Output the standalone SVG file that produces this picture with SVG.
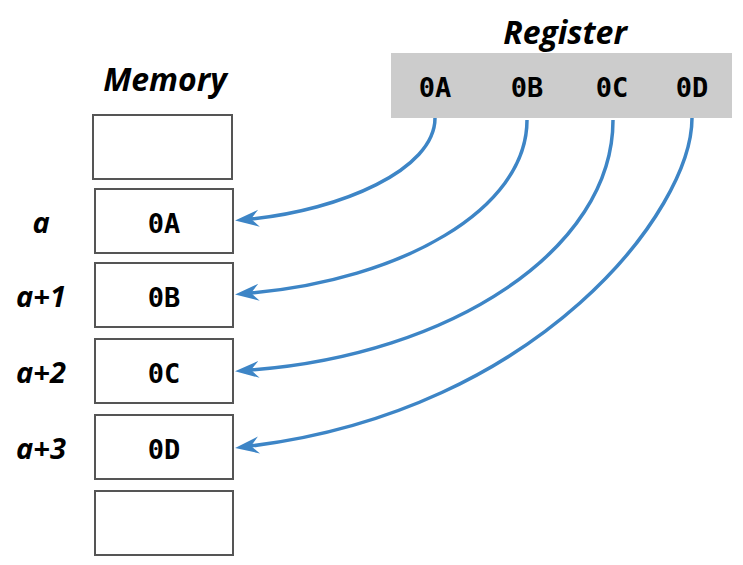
<svg xmlns="http://www.w3.org/2000/svg" width="743" height="565" viewBox="0 0 743 565">
  <style>
    .title { font-family: "Open Sans", "DejaVu Sans", sans-serif; font-weight: bold; font-style: italic; font-size: 32px; fill: #000; text-anchor: middle; }
    .addr { font-family: "Open Sans", "DejaVu Sans", sans-serif; font-weight: bold; font-style: italic; font-size: 29px; fill: #000; text-anchor: middle; }
    .val { font-family: "DejaVu Sans Mono", "Liberation Mono", monospace; font-weight: bold; font-size: 27px; fill: #000; text-anchor: middle; }
    .cell { fill: #ffffff; stroke: #555555; stroke-width: 2; }
    .edge { fill: none; stroke: #3d85c6; stroke-width: 3.5; }
  </style>
  <defs>
    <marker id="arrow" markerUnits="userSpaceOnUse" markerWidth="26" markerHeight="20" viewBox="0 -10 26 20" refX="8" refY="0" orient="auto">
      <path d="M24,0 L0,-8.5 L8,0 L0,8.5 Z" fill="#3d85c6"/>
    </marker>
  </defs>

  <g id="register">
    <text class="title" x="565" y="44">Register</text>
    <rect x="391" y="53" width="341" height="65" fill="#cccccc"/>
    <text class="val" x="435" y="97">0A</text>
    <text class="val" x="527" y="97">0B</text>
    <text class="val" x="612" y="97">0C</text>
    <text class="val" x="692" y="97">0D</text>
  </g>

  <g id="memory">
    <text class="title" x="165" y="91">Memory</text>
  </g>
  <g id="cell-top">
    <rect class="cell" x="93" y="115" width="139" height="64"/>
  </g>
  <g id="cell-a">
    <rect class="cell" x="95" y="189" width="138" height="64"/>
    <text class="val" x="164" y="233">0A</text>
    <text class="addr" x="41" y="233">a</text>
  </g>
  <g id="cell-a1">
    <rect class="cell" x="95" y="263" width="138" height="64"/>
    <text class="val" x="164" y="307">0B</text>
    <text class="addr" x="41" y="307">a+1</text>
  </g>
  <g id="cell-a2">
    <rect class="cell" x="95" y="339" width="138" height="64"/>
    <text class="val" x="164" y="383">0C</text>
    <text class="addr" x="41" y="383">a+2</text>
  </g>
  <g id="cell-a3">
    <rect class="cell" x="95" y="415" width="138" height="64"/>
    <text class="val" x="164" y="459">0D</text>
    <text class="addr" x="41" y="459">a+3</text>
  </g>
  <g id="cell-bottom">
    <rect class="cell" x="95" y="491" width="138" height="64"/>
  </g>

  <g id="connectors">
    <path class="edge" marker-end="url(#arrow)" d="M435,118 C435,170 340,210 251,219"/>
    <path class="edge" marker-end="url(#arrow)" d="M527,120 C527,210 400,280 251,293"/>
    <path class="edge" marker-end="url(#arrow)" d="M613,120 C613,250 450,355 251,370"/>
    <path class="edge" marker-end="url(#arrow)" d="M692,118 C692,210 540,410 251,446"/>
  </g>
</svg>
